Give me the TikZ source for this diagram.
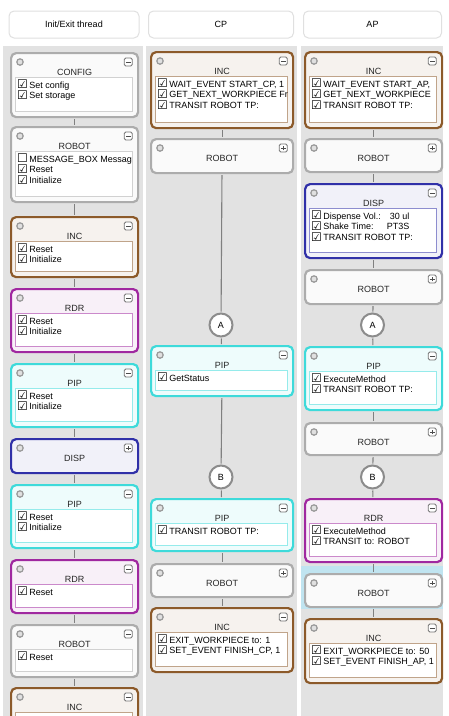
\documentclass[tikz,border=0pt]{standalone}
\usepackage{fontspec}
\setmainfont{Liberation Sans}
\newfontfamily\symf{DejaVu Sans}
\definecolor{gry}{RGB}{172,172,172}
\definecolor{inc}{RGB}{140,90,42}
\definecolor{rdr}{RGB}{160,40,160}
\definecolor{pip}{RGB}{62,218,218}
\definecolor{dsp}{RGB}{48,48,168}
\definecolor{lane}{RGB}{226,226,226}
\definecolor{hil}{RGB}{192,228,240}
\newcommand{\ck}{\raisebox{-0.8pt}{\symf\fontsize{12}{10}\selectfont\char"2611}\,}
\newcommand{\nck}{\raisebox{-0.8pt}{\symf\fontsize{12}{10}\selectfont\char"2610}\,}
\newcommand{\blk}[8]{%
\node [#2, minimum width=#4-#3-2, minimum height=#6-#5-2, anchor=north west] (#1) at (#3+1,#5+1) {};
\draw [radio] ([shift={(10,10)}]#1.north west) circle (3.2);
\node [btn] (#1b) at ([shift={(-11,10)}]#1.north east) {};
\draw [sign] ([xshift=-2.4pt]#1b.center) -- ([xshift=2.4pt]#1b.center);
\node [ttl] (#1t) at ([shift={(0,20)}]#1.north) {#7};
\if\relax\detokenize{#8}\relax
\draw [sign] ([yshift=-2.4pt]#1b.center) -- ([yshift=2.4pt]#1b.center);
\else
\node [lst=#2, minimum width=#4-#3-12, minimum height=#6-#5-32, anchor=north west] (#1l) at ([shift={(5,25)}]#1.north west) {};
\node [itm] (#1i) at ([shift={(2,3)}]#1l.north west) {#8};
\fi
}

\begin{document}
\begin{tikzpicture}[x=1pt, y=-1pt,
  every node/.style={inner sep=0pt, font=\fontsize{9}{10.7}\selectfont},
  blk/.style={draw, rounded corners=5pt, line width=2.2pt},
  gry/.style={blk, draw=gry, fill=black!2},
  inc/.style={blk, draw=inc, fill=inc!8},
  rdr/.style={blk, draw=rdr, fill=rdr!7},
  pip/.style={blk, draw=pip, fill=pip!9},
  dsp/.style={blk, draw=dsp, fill=dsp!7},
  lst/.style={draw=#1!55, fill=white, line width=0.8pt},
  radio/.style={draw=black!40, fill=black!12, line width=1.2pt},
  btn/.style={draw=black!55, fill=white, rounded corners=1.5pt, minimum size=8pt, line width=0.8pt},
  sign/.style={black!70, line width=1pt},
  ttl/.style={text=black!85},
  itm/.style={anchor=north west, align=left},
  hdr/.style={draw=black!12, fill=white, rounded corners=5pt, line width=1pt, minimum height=27pt},
  cir/.style={circle, draw=black!45, fill=white, line width=2pt, minimum size=23pt},
  lnk/.style={draw=black!50, line width=1.1pt, shorten >=1pt, shorten <=1pt}]
\useasboundingbox (0,0) rectangle (449,716);
\clip (0,0) rectangle (449,716);
\fill [white] (0,0) rectangle (449,716);
\fill [lane] (3,46) rectangle (143,716);
\fill [lane] (146,46) rectangle (297,716);
\fill [lane] (301,46) rectangle (443,716);
\fill [hil] (301,566) rectangle (443,609);

\node [hdr, minimum width=130] (h1) at (74,24.5) {Init/Exit thread};
\node [hdr, minimum width=145] (h2) at (221,24.5) {CP};
\node [hdr, minimum width=138] (h3) at (372.5,24.5) {AP};

\blk{ini1}{gry}{9}{138}{51}{117}{CONFIG}{\ck Set config\\\ck Set storage}
\blk{ini2}{gry}{9}{138}{125}{202}{ROBOT}{\nck MESSAGE\_BOX Messag\\\ck Reset\\\ck Initialize}
\blk{ini3}{inc}{9}{138}{215}{277}{INC}{\ck Reset\\\ck Initialize}
\blk{ini4}{rdr}{9}{138}{287}{352}{RDR}{\ck Reset\\\ck Initialize}
\blk{ini5}{pip}{9}{138}{362}{427}{PIP}{\ck Reset\\\ck Initialize}
\blk{ini6}{dsp}{9}{138}{437}{473}{DISP}{}
\blk{ini7}{pip}{9}{138}{483}{548}{PIP}{\ck Reset\\\ck Initialize}
\blk{ini8}{rdr}{9}{138}{558}{613}{RDR}{\ck Reset}
\blk{ini9}{gry}{9}{138}{623}{677}{ROBOT}{\ck Reset}
\blk{ini10}{inc}{9}{138}{686}{752}{INC}{\mbox{}}

\blk{cp1}{inc}{149}{293}{50}{128}{INC}{\ck WAIT\_EVENT START\_CP, 1\\\ck GET\_NEXT\_WORKPIECE Fr\\\ck TRANSIT ROBOT TP:}
\blk{cp2}{gry}{149}{293}{137}{173}{ROBOT}{}
\node [cir] (cpA) at (221,325) {A};
\blk{cp3}{pip}{149}{293}{344}{396}{PIP}{\ck GetStatus}
\node [cir] (cpB) at (221,477) {B};
\blk{cp4}{pip}{149}{293}{497}{551}{PIP}{\ck TRANSIT ROBOT TP:}
\blk{cp5}{gry}{149}{293}{562}{597}{ROBOT}{}
\blk{cp6}{inc}{149}{293}{606}{672}{INC}{\ck EXIT\_WORKPIECE to: 1\\\ck SET\_EVENT FINISH\_CP, 1}

\blk{ap1}{inc}{303}{442}{50}{128}{INC}{\ck WAIT\_EVENT START\_AP,\\\ck GET\_NEXT\_WORKPIECE\\\ck TRANSIT ROBOT TP:}
\blk{ap2}{gry}{303}{442}{137}{172}{ROBOT}{}
\blk{ap3}{dsp}{303}{442}{182}{258}{DISP}{\ck \makebox[86pt]{Dispense Vol.:\hfill 30 ul}\\\ck \makebox[86pt]{Shake Time:\hfill PT3S}\\\ck TRANSIT ROBOT TP:}
\blk{ap4}{gry}{303}{442}{268}{304}{ROBOT}{}
\node [cir] (apA) at (372.5,325) {A};
\blk{ap5}{pip}{303}{442}{345}{410}{PIP}{\ck ExecuteMethod\\\ck TRANSIT ROBOT TP:}
\blk{ap6}{gry}{303}{442}{421}{455}{ROBOT}{}
\node [cir] (apB) at (372.5,477) {B};
\blk{ap7}{rdr}{303}{442}{497}{562}{RDR}{\ck ExecuteMethod\\\ck TRANSIT to: ROBOT}
\blk{ap8}{gry}{303}{442}{572}{607}{ROBOT}{}
\blk{ap9}{inc}{303}{442}{617}{683}{INC}{\ck EXIT\_WORKPIECE to: 50\\\ck SET\_EVENT FINISH\_AP, 1}

\foreach \a [count=\b from 2] in {1,...,9}
  \draw [lnk] (ini\a) -- (ini\b);
\foreach \a/\b in {cp1/cp2, cp2/cpA, cpA/cp3, cp3/cpB, cpB/cp4, cp4/cp5, cp5/cp6,
  ap1/ap2, ap2/ap3, ap3/ap4, ap4/apA, apA/ap5, ap5/ap6, ap6/apB, apB/ap7, ap7/ap8, ap8/ap9}
  \draw [lnk] (\a) -- (\b);
\end{tikzpicture}
\end{document}
